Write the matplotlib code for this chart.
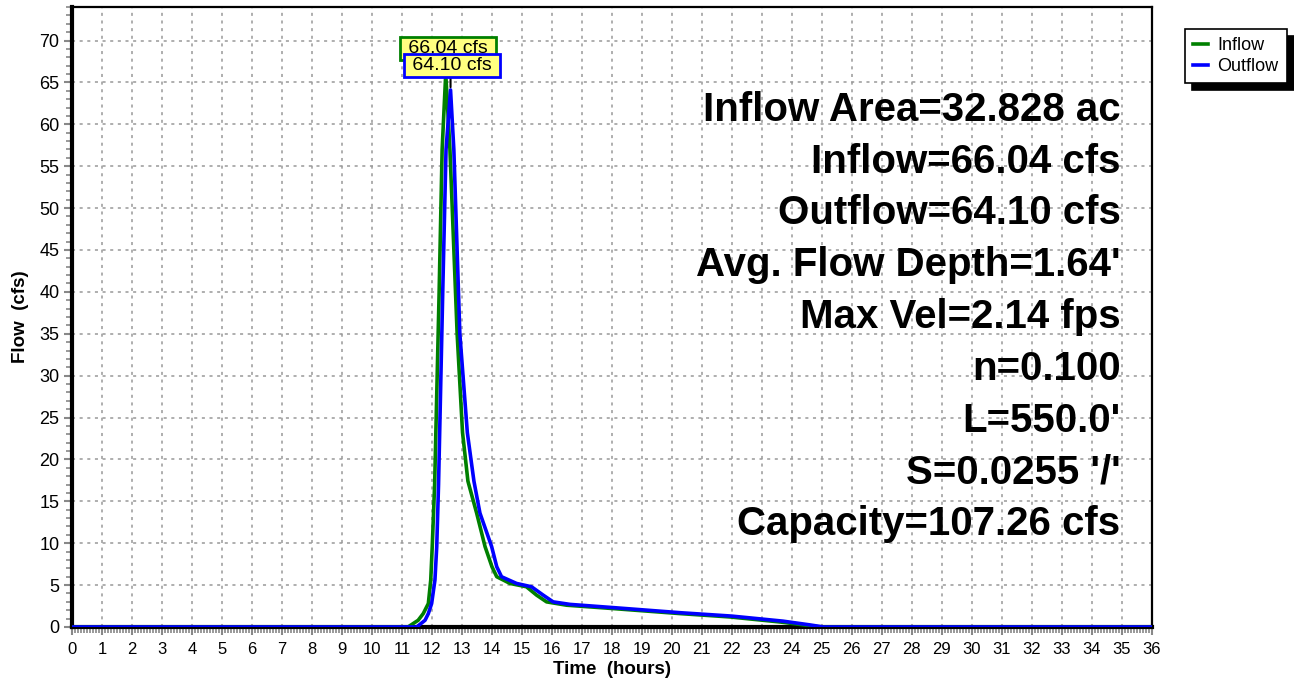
import matplotlib.pyplot as plt
import numpy as np
from matplotlib.ticker import MultipleLocator

plt.rcParams['font.family'] = ['Liberation Sans', 'DejaVu Sans']

# hydrograph (hours, cfs)
inflow_t = [0, 11.2, 11.54, 11.71, 11.88, 11.96, 12.01, 12.09, 12.24, 12.34, 12.46,
            12.6, 12.84, 13.02, 13.2, 13.49, 13.77, 14.0, 14.16, 14.6, 15.15,
            15.49, 15.82, 16.49, 18.04, 20.27, 21.93, 23.6, 24.5, 24.93, 36]
inflow_q = [0, 0, 0.8, 1.6, 2.8, 5.6, 9.6, 17.0, 40.0, 57.0, 66.04,
            57.0, 35.0, 23.2, 17.4, 13.6, 9.6, 7.2, 6.0, 5.2, 4.8,
            3.8, 3.0, 2.6, 2.2, 1.6, 1.2, 0.6, 0.2, 0, 0]

outflow_t = [0, 11.49, 11.77, 11.88, 11.99, 12.1, 12.16, 12.22, 12.36, 12.47, 12.62,
             12.73, 12.93, 13.18, 13.4, 13.6, 13.99, 14.16, 14.32, 14.82, 15.32,
             15.71, 16.04, 16.6, 18.1, 20.3, 22.0, 23.7, 24.6, 25.05, 36]
outflow_q = [0, 0, 0.8, 1.6, 2.8, 5.6, 9.6, 17.0, 40.0, 57.0, 64.10,
             57.0, 35.0, 23.2, 17.4, 13.6, 9.6, 7.2, 6.0, 5.2, 4.8,
             3.8, 3.0, 2.7, 2.3, 1.7, 1.3, 0.7, 0.25, 0, 0]

summary = ["Inflow Area=32.828 ac", "Inflow=66.04 cfs", "Outflow=64.10 cfs",
           "Avg. Flow Depth=1.64'", "Max Vel=2.14 fps", "n=0.100", "L=550.0'",
           "S=0.0255 '/'", "Capacity=107.26 cfs"]

fig = plt.figure(figsize=(12.94, 6.81), dpi=100)
ax = fig.add_axes([0.0556, 0.0793, 0.8346, 0.9104])

ax.plot(inflow_t, inflow_q, color='#008000', lw=2.6, label='Inflow', zorder=3)
ax.plot(outflow_t, outflow_q, color='#0000ff', lw=2.6, label='Outflow', zorder=4)

ax.set_xlim(0, 36)
ax.set_ylim(0, 74)
ax.xaxis.set_major_locator(MultipleLocator(1))
ax.xaxis.set_minor_locator(MultipleLocator(0.1))
ax.yaxis.set_major_locator(MultipleLocator(5))
ax.yaxis.set_minor_locator(MultipleLocator(1))
ax.tick_params(which='major', direction='out', length=6, width=1.5, color='#888888',
               labelcolor='black')
ax.tick_params(axis='x', which='major', labelsize=12, pad=5)
ax.tick_params(axis='y', which='major', labelsize=13, pad=3)
ax.tick_params(which='minor', direction='out', length=4, width=1.2, color='#888888')

ax.grid(which='major', linestyle=(0, (2, 3)), color='#999999', lw=1.1)
ax.set_axisbelow(True)

for side in ['left', 'bottom']:
    ax.spines[side].set_linewidth(3)
for side in ['top', 'right']:
    ax.spines[side].set_linewidth(1.6)

ax.set_xlabel('Time  (hours)', fontsize=13.5, fontweight='bold', labelpad=3)
ax.set_ylabel('Flow  (cfs)', fontsize=13.5, fontweight='bold', labelpad=7)

# summary block, right aligned
for i, line in enumerate(summary):
    ax.text(0.971, 0.834 - i * 0.0835, line, transform=ax.transAxes, ha='right',
            va='center', fontsize=29, fontweight='bold', zorder=5)

# peak labels
ax.annotate('', xy=(12.62, 64.1), xytext=(12.62, 66.2),
            arrowprops=dict(arrowstyle='-', color='black', lw=1.5), zorder=5)
ax.text(12.53, 69.0, ' %.2f cfs ' % max(inflow_q), ha='center', va='center', fontsize=14,
        bbox=dict(boxstyle='square,pad=0.15', fc='#ffff80', ec='#008000', lw=2), zorder=6)
ax.text(12.68, 67.0, ' %.2f cfs ' % max(outflow_q), ha='center', va='center', fontsize=14,
        bbox=dict(boxstyle='square,pad=0.15', fc='#ffff80', ec='#0000ff', lw=2), zorder=7)

leg = ax.legend(loc='upper left', bbox_to_anchor=(0.9158, 0.957), bbox_transform=fig.transFigure,
                borderaxespad=0, fontsize=13, handlelength=0.8, handletextpad=0.55,
                borderpad=0.45, labelspacing=0.2, fancybox=False, frameon=True,
                shadow={'ox': 5, 'oy': -5, 'facecolor': 'black', 'edgecolor': 'black', 'alpha': 1})
leg.get_frame().set_edgecolor('black')
leg.get_frame().set_linewidth(1.2)
leg.get_frame().set_alpha(1)

fig.savefig('out.png', dpi=100)
